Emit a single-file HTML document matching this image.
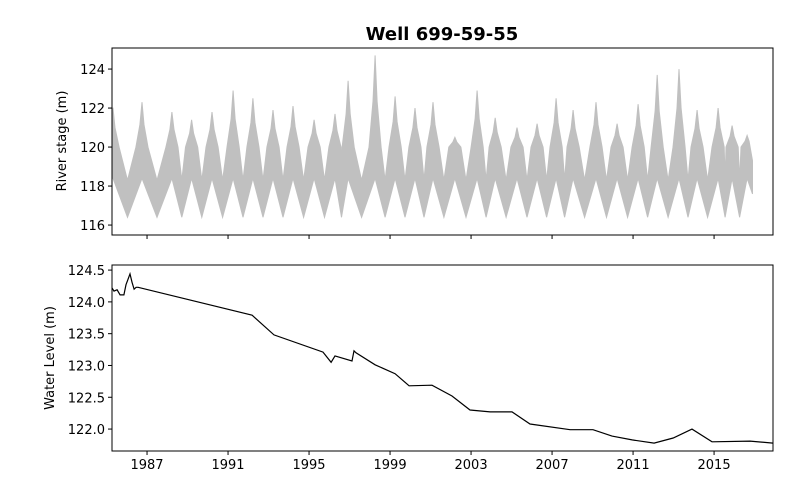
<!DOCTYPE html>
<html><head><meta charset="utf-8"><style>
body{margin:0;background:#fff;}
svg{display:block;font-family:"DejaVu Sans","Liberation Sans",sans-serif;}
</style></head><body>
<svg id="chart" width="800" height="500" viewBox="0 0 800 500">
<text x="442" y="40" text-anchor="middle" font-size="18" font-weight="bold">Well 699-59-55</text>
<g id="topPanel"></g>
<g id="botPanel"></g>
</svg>
<script>
// River stage annual peaks (year, m)
const peakYears=[1985.32,1986.75,1988.23,1989.2,1990.21,1991.25,1992.23,1993.22,1994.21,1995.25,1996.28,1996.93,1998.26,1999.25,2000.23,2001.12,2002.2,2003.30,2004.19,2005.27,2006.26,2007.20,2008.04,2009.17,2010.21,2011.25,2012.19,2013.27,2014.16,2015.20,2015.89,2016.63];
const peakValues=[122.0,122.3,121.8,121.4,121.8,122.9,122.5,121.9,122.1,121.4,121.7,123.4,124.7,122.6,122.0,122.3,120.5,122.9,121.5,121.0,121.2,122.5,121.9,122.3,121.2,122.2,123.7,124.0,121.9,122.0,121.1,120.6];
const stageBaseHigh=120.0, stageTroughHigh=118.3, stagePeakLow=118.4, stageTroughLow=116.4;
const stageStart=1985.27, stageEnd=2016.9;
// Water level series
const wlYears=[1985.27,1985.37,1985.52,1985.67,1985.86,1985.96,1986.16,1986.26,1986.36,1986.46,1986.56,1992.19,1993.27,1995.69,1996.09,1996.28,1997.12,1997.22,1997.32,1998.26,1999.25,1999.94,2001.07,2002.06,2002.95,2003.94,2005.02,2005.91,2007.89,2009.02,2009.96,2010.95,2012.04,2012.98,2013.91,2014.90,2016.78,2017.91];
const wlValues=[124.22,124.17,124.19,124.11,124.11,124.27,124.44,124.31,124.20,124.23,124.23,123.79,123.48,123.21,123.05,123.15,123.07,123.23,123.20,123.01,122.87,122.68,122.69,122.52,122.30,122.27,122.27,122.08,121.99,121.99,121.89,121.83,121.78,121.86,122.0,121.80,121.81,121.78];
const xTicks=[1987,1991,1995,1999,2003,2007,2011,2015];
const topYTicks=[116,118,120,122,124];
const botYTicks=[122.0,122.5,123.0,123.5,124.0,124.5];

const NS='http://www.w3.org/2000/svg';
const L=112,R=773;
const xMin=1985.27,xMax=2017.91;
const X=v=>L+(v-xMin)/(xMax-xMin)*(R-L);
const T={top:48,bot:235,min:115.49,max:125.08};
const B={top:265,bot:451,min:121.655,max:124.58};
const YT=v=>T.bot-(v-T.min)/(T.max-T.min)*(T.bot-T.top);
const YB=v=>B.bot-(v-B.min)/(B.max-B.min)*(B.bot-B.top);
function mk(tag,attrs,parent){const e=document.createElementNS(NS,tag);for(const k in attrs)e.setAttribute(k,attrs[k]);parent.appendChild(e);return e;}
const topG=document.getElementById('topPanel'),botG=document.getElementById('botPanel');

// River stage envelope
const hi=[],lo=[];
hi.push([stageStart,peakValues[0]]);lo.push([stageStart,stagePeakLow]);
for(let i=0;i<peakYears.length;i++){
  const t=peakYears[i], p=peakValues[i];
  if(i>0){const m=(peakYears[i-1]+t)/2;hi.push([m,stageTroughHigh]);lo.push([m,stageTroughLow]);
    hi.push([t-0.3,stageBaseHigh]);hi.push([t-0.1,(p+stageBaseHigh)/2]);}
  hi.push([t,p]);lo.push([t,stagePeakLow]);
  hi.push([t+0.1,(p+stageBaseHigh)/2]);hi.push([t+0.3,stageBaseHigh]);
}
hi.push([stageEnd,stageTroughHigh+1]);lo.push([stageEnd,stageTroughLow+1.2]);
hi.sort((a,b)=>a[0]-b[0]);lo.sort((a,b)=>a[0]-b[0]);
let pts=hi.filter(p=>p[0]>=stageStart&&p[0]<=stageEnd).map(p=>X(p[0]).toFixed(1)+','+YT(p[1]).toFixed(1));
pts=pts.concat(lo.filter(p=>p[0]>=stageStart&&p[0]<=stageEnd).reverse().map(p=>X(p[0]).toFixed(1)+','+YT(p[1]).toFixed(1)));
const band=mk('polygon',{points:pts.join(' '),fill:'#c0c0c0',stroke:'#c0c0c0','stroke-width':1},topG);



// Water level line
const wl=mk('polyline',{points:wlYears.map((y,i)=>X(y).toFixed(1)+','+YB(wlValues[i]).toFixed(1)).join(' '),fill:'none',stroke:'#000','stroke-width':1.2},botG);



// Frames
const f1=mk('rect',{x:L,y:T.top,width:R-L,height:T.bot-T.top,fill:'none',stroke:'#000','stroke-width':1},topG);


const f2=mk('rect',{x:L,y:B.top,width:R-L,height:B.bot-B.top,fill:'none',stroke:'#000','stroke-width':1},botG);



// X ticks
xTicks.forEach(y=>{
  const x=X(y);
  mk('line',{x1:x,x2:x,y1:T.bot,y2:T.bot+4,stroke:'#000'},topG);
  mk('line',{x1:x,x2:x,y1:B.bot,y2:B.bot+4,stroke:'#000'},botG);
  const t=mk('text',{x:x,y:B.bot+18,'text-anchor':'middle','font-size':13},botG);
  t.textContent=y;
  
  
});
topYTicks.forEach(v=>{
  const y=YT(v);
  mk('line',{x1:L-4,x2:L,y1:y,y2:y,stroke:'#000'},topG);
  const t=mk('text',{x:L-7,y:y+5,'text-anchor':'end','font-size':13},topG);
  t.textContent=v;
  
  
});
botYTicks.forEach(v=>{
  const y=YB(v);
  mk('line',{x1:L-4,x2:L,y1:y,y2:y,stroke:'#000'},botG);
  const t=mk('text',{x:L-7,y:y+5,'text-anchor':'end','font-size':13},botG);
  t.textContent=v.toFixed(1);
  
  
});
const yt1=mk('text',{transform:'translate(66,141) rotate(-90)','text-anchor':'middle','font-size':13},topG);
yt1.textContent='River stage (m)';


const yt2=mk('text',{transform:'translate(54,358) rotate(-90)','text-anchor':'middle','font-size':13},botG);
yt2.textContent='Water Level (m)';


</script>
</body></html>
